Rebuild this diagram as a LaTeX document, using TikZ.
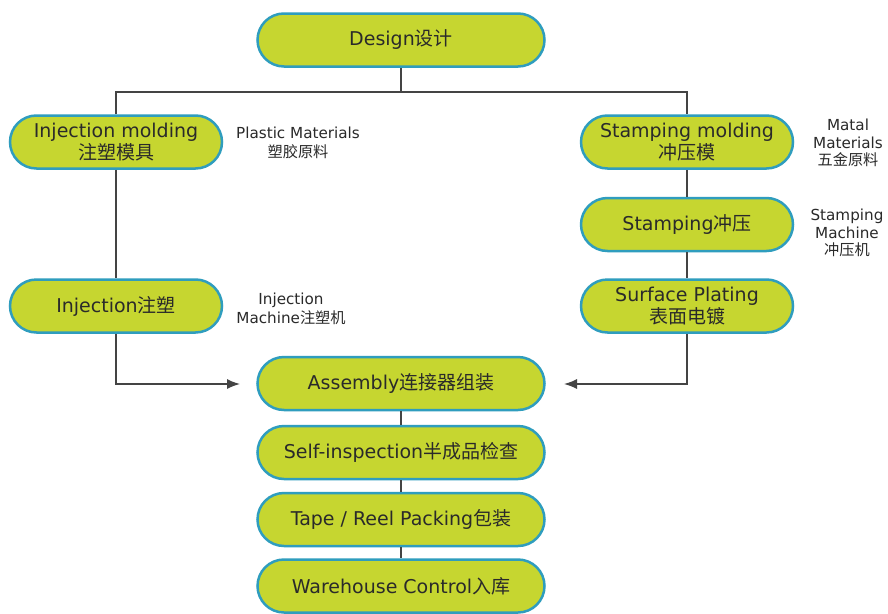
\documentclass[tikz,border=0pt]{standalone}
\usepackage{fontspec}
\setmainfont{DejaVu Sans}
\newfontfamily\cjk{Noto Sans CJK SC}
\usetikzlibrary{arrows.meta}
\definecolor{boxfill}{HTML}{C6D630}
\definecolor{boxline}{HTML}{2F9DBE}
\definecolor{txt}{HTML}{2A2A2A}
\definecolor{connc}{HTML}{444444}
\begin{document}
\begin{tikzpicture}[x=1pt,y=-1pt,
 pill/.style={draw=boxline, line width=2.5pt, fill=boxfill, rounded corners=26.5pt, minimum height=53pt, inner sep=0pt, align=center, text=txt, font=\fontsize{19}{22}\selectfont},
 wide/.style={pill, minimum width=287pt},
 narrow/.style={pill, minimum width=212pt},
 note/.style={align=center, text=txt, font=\fontsize{15.2}{18.5}\selectfont, inner sep=0pt},
 conn/.style={draw=connc, line width=1.4pt},
 arr/.style={conn, -{Latex[length=13pt,width=10pt]}}]
\useasboundingbox (0,0) rectangle (888,613);
\fill[white] (0,0) rectangle (888,613);

\coordinate (jn) at (401,92);
\coordinate (inL) at (240,384);
\coordinate (inR) at (564,384);

\node[wide] (design) at (401,40) {Design{\cjk 设计}};
\node[narrow] (im) at (116,142) {Injection molding\\{\cjk 注塑模具}};
\node[narrow] (sm) at (687,142) {Stamping molding\\{\cjk 冲压模}};
\node[narrow] (st) at (687,224.5) {Stamping{\cjk 冲压}};
\node[narrow] (inj) at (116,306) {Injection{\cjk 注塑}};
\node[narrow] (sp) at (687,306) {Surface Plating\\{\cjk 表面电镀}};
\node[wide] (asm) at (401,383.5) {Assembly{\cjk 连接器组装}};
\node[wide] (si) at (401,452.5) {Self-inspection{\cjk 半成品检查}};
\node[wide] (tr) at (401,519.5) {Tape / Reel Packing{\cjk 包装}};
\node[wide] (wh) at (401,586) {Warehouse Control{\cjk 入库}};

\node[note] (n1) at (298,143) {Plastic Materials\\{\cjk 塑胶原料}};
\node[note, font=\fontsize{15.2}{17.5}\selectfont] (n2) at (848,143) {Matal\\Materials\\{\cjk 五金原料}};
\node[note, font=\fontsize{15.2}{17.5}\selectfont] (n3) at (847,233) {Stamping\\Machine\\{\cjk 冲压机}};
\node[note] (n4) at (291,309) {Injection\\Machine{\cjk 注塑机}};

\draw[conn] (design.south) -- (jn);
\draw[conn] (im.north) |- (jn) -| (sm.north);
\draw[conn] (im.south) -- (inj.north);
\draw[conn] (sm.south) -- (st.north);
\draw[conn] (st.south) -- (sp.north);
\draw[arr] (inj.south) |- (inL);
\draw[arr] (sp.south) |- (inR);
\draw[conn] (asm.south) -- (si.north);
\draw[conn] (si.south) -- (tr.north);
\draw[conn] (tr.south) -- (wh.north);
\end{tikzpicture}
\end{document}
